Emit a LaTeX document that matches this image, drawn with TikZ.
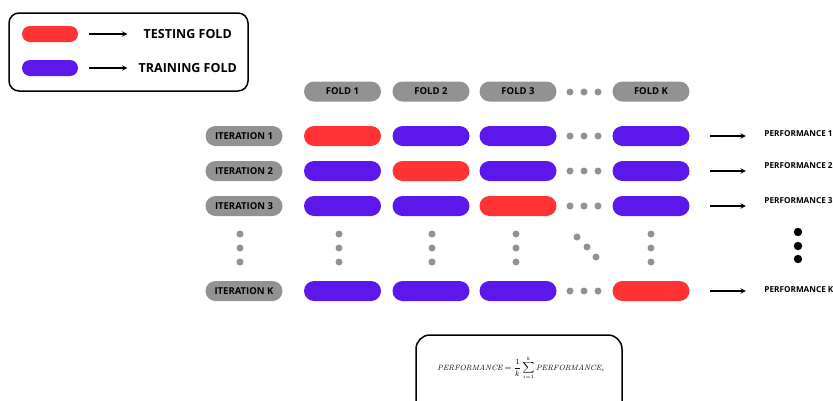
\documentclass[tikz,border=0pt]{standalone}
\usepackage{fontspec}
\usepackage{amsmath}
\newfontfamily\opensans{Open Sans}
\usetikzlibrary{positioning}

\definecolor{testred}{RGB}{255,51,51}
\definecolor{trainblue}{RGB}{92,24,234}
\definecolor{pillgray}{RGB}{146,146,146}

\begin{document}
\begin{tikzpicture}[x=1pt, y=-1pt, >=stealth, thick,
    pill/.style={rectangle, rounded corners=10pt, minimum width=77pt, minimum height=20pt, inner sep=0pt},
    head/.style={pill, fill=pillgray, font=\opensans\bfseries\fontsize{9.5}{9.5}\selectfont},
    test/.style={pill, fill=testred},
    train/.style={pill, fill=trainblue},
    key/.style={rectangle, rounded corners=8pt, minimum width=56pt, minimum height=16pt},
    keytext/.style={anchor=west, font=\opensans\bfseries\fontsize{12.5}{12.5}\selectfont},
    perf/.style={anchor=west, inner sep=0pt, font=\opensans\bfseries\fontsize{8.2}{8.2}\selectfont}]
    \clip (0,0) rectangle (833,400);

    % Draw Legend
    \draw[line width=1.5pt, rounded corners=10pt] (9,13) rectangle (248,91);
    \node[key, fill=testred] (keytest) at (50,34) {};
    \node[key, fill=trainblue] (keytrain) at (50,68) {};
    \node[keytext] (keytesttxt) at (140,34) {TESTING FOLD};
    \node[keytext] (keytraintxt) at (135,68) {TRAINING FOLD};
    \draw[->, line width=1.4pt] ([xshift=11pt]keytest.east) -- ++(38,0);
    \draw[->, line width=1.4pt] ([xshift=11pt]keytrain.east) -- ++(38,0);

    % Fold Headers
    \node[head] (f1) at (342.5,91.5) {FOLD 1};
    \node[head] (f2) at (431,91.5) {FOLD 2};
    \node[head] (f3) at (518,91.5) {FOLD 3};
    \node[head] (fk) at (651,91.5) {FOLD K};
    \foreach \x in {570,584,598}
        \fill[pillgray] (\x,92) circle (3.5pt);

    % Iterations, Folds and Performances
    \foreach \r/\y/\py/\sa/\sb/\sc/\sk in {1/136/134/test/train/train/train,
                                           2/171/166/train/test/train/train,
                                           3/206/201/train/train/test/train,
                                           K/291/290/train/train/train/test} {
        \node[head] (it\r) at (244,\y) {ITERATION \r};
        \node[\sa] (c\r1) at (342.5,\y) {};
        \node[\sb] (c\r2) at (431,\y) {};
        \node[\sc] (c\r3) at (518,\y) {};
        \node[\sk] (c\r k) at (651,\y) {};
        \foreach \x in {570,584,598}
            \fill[pillgray] (\x,\y) circle (3.5pt);
        \node[perf] (p\r) at (764,\py) {PERFORMANCE \r};
        \draw[->, line width=1.4pt] ([xshift=20pt]c\r k.east) -- ++(36,0);
    }

    % Vertical Dots
    \foreach \x in {240,339,432,516,651}
        \foreach \y in {234,248,262}
            \fill[pillgray] (\x,\y) circle (3.5pt);
    \fill[pillgray] (577,237) circle (3.5pt);
    \fill[pillgray] (587,247) circle (3.5pt);
    \fill[pillgray] (596,257) circle (3.5pt);
    \foreach \y in {232,246,259}
        \fill[black] (798,\y) circle (4.2pt);

    % Average Performance
    \draw[line width=1.5pt, rounded corners=14pt] (416,335) rectangle (622,430);
    \node[font=\fontsize{7.6}{7.6}\selectfont] (avg) at (521,368)
        {$\mathit{PERFORMANCE} = \dfrac{1}{k}\displaystyle\sum_{i=1}^{k}\mathit{PERFORMANCE}_i$};
\end{tikzpicture}
\end{document}
